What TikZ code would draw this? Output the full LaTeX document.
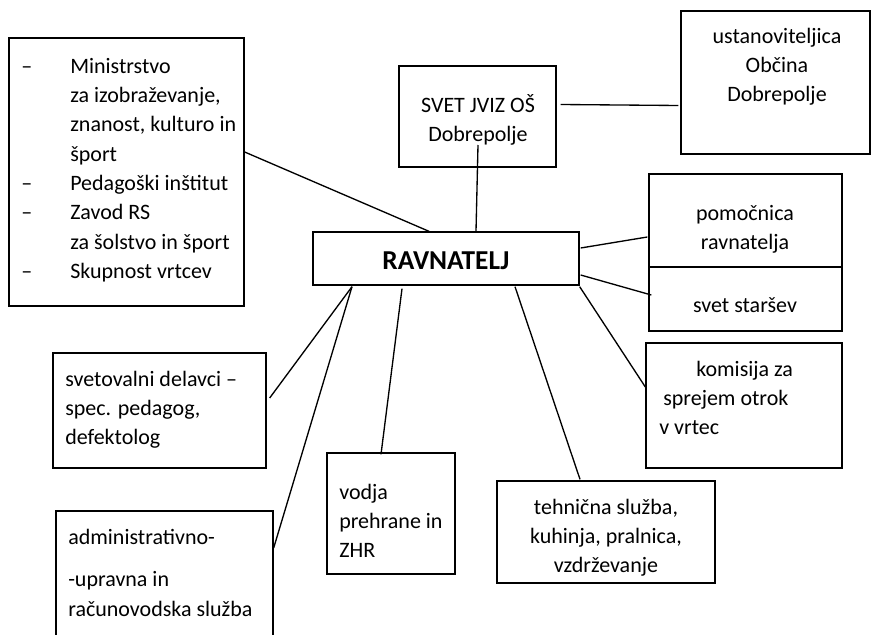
\documentclass[tikz,border=0pt]{standalone}
\usepackage{fontspec}
\setmainfont{Carlito}
\usetikzlibrary{calc}

\tikzset{
  box/.style={draw, line width=1pt, inner sep=0pt},
  txt/.style={inner sep=0pt, font=\fontsize{16.5}{22}\selectfont},
  link/.style={line width=1pt},
}
\newcommand{\alinea}{\llap{–\hspace{28.5pt}}}

\begin{document}
\begin{tikzpicture}[x=0.75pt, y=-0.75pt]
\clip (0,0) rectangle (871,635);
% boxes
\node[box, minimum width=176.25pt, minimum height=201pt] (mzz) at (126.5,172) {};
\node[box, minimum width=117.75pt, minimum height=75.75pt] (svet) at (477.5,116.5) {};
\node[box, minimum width=141.75pt, minimum height=107.25pt] (ustan) at (775.5,82.5) {};
\node[box, minimum width=199.5pt, minimum height=39.75pt] (rav) at (446,258.5) {};
\node[box, minimum width=144.75pt, minimum height=69.75pt] (pom) at (745.5,220.5) {};
\node[box, minimum width=144.75pt, minimum height=48pt] (star) at (745.5,299) {};
\node[box, minimum width=159.75pt, minimum height=86.25pt] (svetov) at (159.5,410.5) {};
\node[box, minimum width=162.75pt, minimum height=104.25pt] (admin) at (164.5,580.5) {};
\node[box, minimum width=96pt, minimum height=90.75pt] (vodja) at (391,513.5) {};
\node[box, minimum width=163.5pt, minimum height=76.5pt] (teh) at (606,532) {};
\node[box, minimum width=147pt, minimum height=93.75pt] (kom) at (744,405.5) {};

% texts
\node[txt, anchor=north west, align=left] (mzztxt) at (70,52.5)
  {\strut\alinea Ministrstvo\\za izobraževanje,\\znanost, kulturo in\\šport\\\alinea Pedagoški inštitut\\\alinea Zavod RS\\za šolstvo in šport\\\alinea Skupnost vrtcev};
\node[txt, anchor=north, align=center] (svettxt) at (478,91.5) {\strut SVET JVIZ OŠ\\Dobrepolje};
\node[txt, anchor=north, align=center] (ustantxt) at (777,22.5) {\strut ustanoviteljica\\Občina\\Dobrepolje};
\node[inner sep=0pt, anchor=base, font=\fontsize{20.5}{22}\selectfont\bfseries] (ravtxt) at (446,269) {RAVNATELJ};
\node[txt, anchor=north, align=center] (pomtxt) at (745,199.5) {\strut pomočnica\\ravnatelja};
\node[txt, anchor=north, align=center] (startxt) at (745,291.5) {\strut svet staršev};
\node[txt, anchor=north west, align=left] (svetovtxt) at (65,365.5) {\strut svetovalni delavci –\\spec. pedagog,\\defektolog};
\node[txt, anchor=north west, align=left] (admintxt) at (68,523.5) {\strut administrativno-\\[10pt]-upravna in\\računovodska služba};
\node[txt, anchor=north west, align=left] (vodjatxt) at (339,478.5) {\strut vodja\\prehrane in\\ZHR};
\node[txt, anchor=north, align=center] (tehtxt) at (606,493.5) {\strut tehnična služba,\\kuhinja, pralnica,\\vzdrževanje};
\node[txt, anchor=north west, align=left] (komtxt) at (659,355.5) {\strut\hspace*{27.75pt}komisija za\\\hspace*{3pt}sprejem otrok\\v vrtec};

% connectors
\draw[link] ($(mzz.east)+(0,-20)$) -- ($(rav.north)+(-17,0)$);
\draw[link] ($(svet.center)+(0.5,28.5)$) -- ($(rav.north)+(30,0)$);
\draw[link] ($(svet.east)+(4,-12)$) -- ($(ustan.west)+(-2,23)$);
\draw[link] ($(rav.east)+(1,-10.5)$) -- ($(pom.west)+(-1,16.5)$);
\draw[link] ($(rav.east)+(1,16.5)$) -- ($(star.west)+(3,-4)$);
\draw[link] ($(rav.south)+(-94,1)$) -- ($(svetov.east)+(3,-12.5)$);
\draw[link] ($(rav.south)+(-94,1)$) -- ($(admin.east)+(0,-32.5)$);
\draw[link] ($(rav.south)+(-44,3)$) -- ($(vodja.north)+(-10,2)$);
\draw[link] ($(rav.south)+(69,1)$) -- ($(teh.north)+(-26,-1)$);
\draw[link] ($(rav.south east)+(0,1)$) -- ($(kom.west)+(0,-18.5)$);
\end{tikzpicture}
\end{document}
